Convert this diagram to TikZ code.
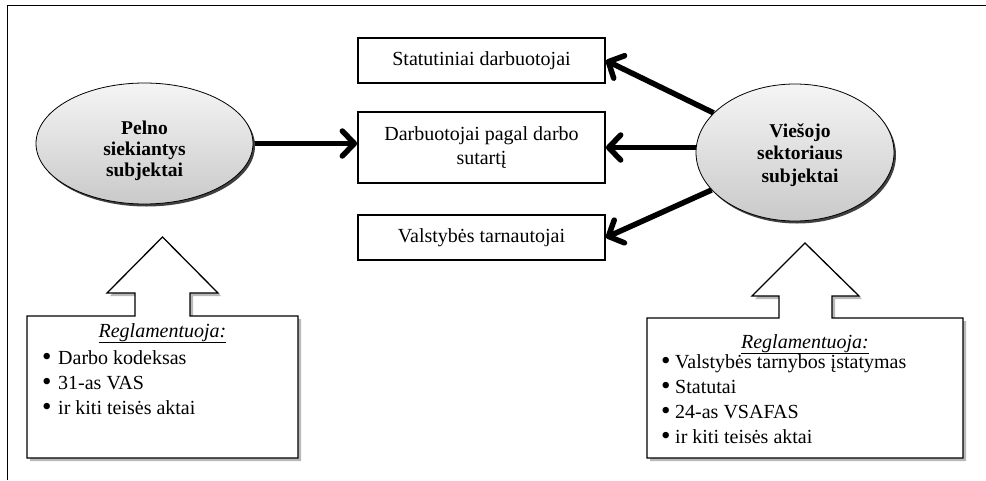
\documentclass[tikz,border=0pt]{standalone}
\usepackage{fontspec}
\setmainfont{Liberation Serif}
\usetikzlibrary{arrows.meta,shapes.geometric,shadows,backgrounds}
\newcommand{\mybul}{\raisebox{-1.2pt}{\fontsize{27}{24}\selectfont •}}
\begin{document}
\begin{tikzpicture}[x=1pt,y=-1pt,
  rbox/.style={draw, line width=1.8pt, fill=white, minimum width=247pt, align=center,
    font=\fontsize{20}{24}\selectfont, inner sep=2pt},
  ell/.style={ellipse, draw, line width=0.8pt, inner sep=0pt,
    top color=gray!8, bottom color=gray!42,
    drop shadow={shadow xshift=2pt, shadow yshift=-2.5pt, fill=black!75, opacity=1}},
  elltxt/.style={align=center, font=\bfseries\fontsize{19.5}{21}\selectfont},
  arr/.style={line width=5.5pt, -{Straight Barb[length=12pt, width=25pt, round]}},
  callout/.style={draw, line width=1.3pt, fill=white, line join=miter},
  cshadow/.style={fill=gray!55},
  ltxt/.style={anchor=base west, font=\fontsize{20}{24}\selectfont, inner sep=0pt},
  htxt/.style={anchor=base, font=\itshape\fontsize{20}{24}\selectfont, inner sep=0pt}
]
\useasboundingbox (0,0) rectangle (986,480);
% frame
\draw[line width=1pt] (7,480) -- (7,5) -- (986,5);

% boxes
\node[rbox, minimum height=45pt] (S) at (481.5,60.5) {Statutiniai darbuotojai};
\node[rbox, minimum height=71pt] (D) at (481.5,147.5) {Darbuotojai pagal darbo\\sutartį};
\node[rbox, minimum height=45pt] (V) at (481.5,237.5) {Valstybės tarnautojai};

% ellipses
\node[ell, minimum width=217pt, minimum height=121pt] (L) at (144.5,143.5) {};
\node[elltxt] (Lt) at (144.5,151) {Pelno\\siekiantys\\subjektai};
\node[ell, minimum width=198pt, minimum height=137pt] (R) at (795,152.5) {};
\node[elltxt, font=\bfseries\fontsize{19.5}{22.5}\selectfont] (Rt) at (800,155) {Viešojo\\sektoriaus\\subjektai};

% arrows
\begin{scope}[on background layer]
\draw[arr] (L.east) -- (L.east -| D.west);
\draw[arr] (R) -- (S.east);
\draw[arr] (R.west |- D.east) -- (D.east);
\draw[arr] (R) -- (V.east);
\end{scope}

% left callout
\fill[cshadow, shift={(3,3)}] (27,316) -- (135,316) -- (135,293) -- (107,293) -- (162.5,237)
  -- (218,293) -- (190,293) -- (190,316) -- (298,316) -- (298,458) -- (27,458) -- cycle;
\draw[callout] (27,316) -- (135,316) -- (135,293) -- (107,293) -- (162.5,237)
  -- (218,293) -- (190,293) -- (190,316) -- (298,316) -- (298,458) -- (27,458) -- cycle;
\node[htxt] (LH) at (162.5,337) {\underline{Reglamentuoja:}};
\node[ltxt] (L1) at (42,364.5) {\makebox[16pt][l]{\mybul}Darbo kodeksas};
\node[ltxt] (L2) at (42,389.5) {\makebox[16pt][l]{\mybul}31-as VAS};
\node[ltxt] (L3) at (42,414.5) {\makebox[16pt][l]{\mybul}ir kiti teisės aktai};

% right callout
\fill[cshadow, shift={(3,3)}] (647,318) -- (779,318) -- (779,296) -- (752,296) -- (805,243)
  -- (859,296) -- (832,296) -- (832,318) -- (963,318) -- (963,458) -- (647,458) -- cycle;
\draw[callout] (647,318) -- (779,318) -- (779,296) -- (752,296) -- (805,243)
  -- (859,296) -- (832,296) -- (832,318) -- (963,318) -- (963,458) -- (647,458) -- cycle;
\node[htxt] (RH) at (805,348) {\underline{Reglamentuoja:}};
\node[ltxt] (R1) at (661,368.5) {\makebox[14pt][l]{\mybul}Valstybės tarnybos įstatymas};
\node[ltxt] (R2) at (661,393.5) {\makebox[14pt][l]{\mybul}Statutai};
\node[ltxt] (R3) at (661,418.5) {\makebox[14pt][l]{\mybul}24-as VSAFAS};
\node[ltxt] (R4) at (661,443.5) {\makebox[14pt][l]{\mybul}ir kiti teisės aktai};
\end{tikzpicture}
\end{document}
